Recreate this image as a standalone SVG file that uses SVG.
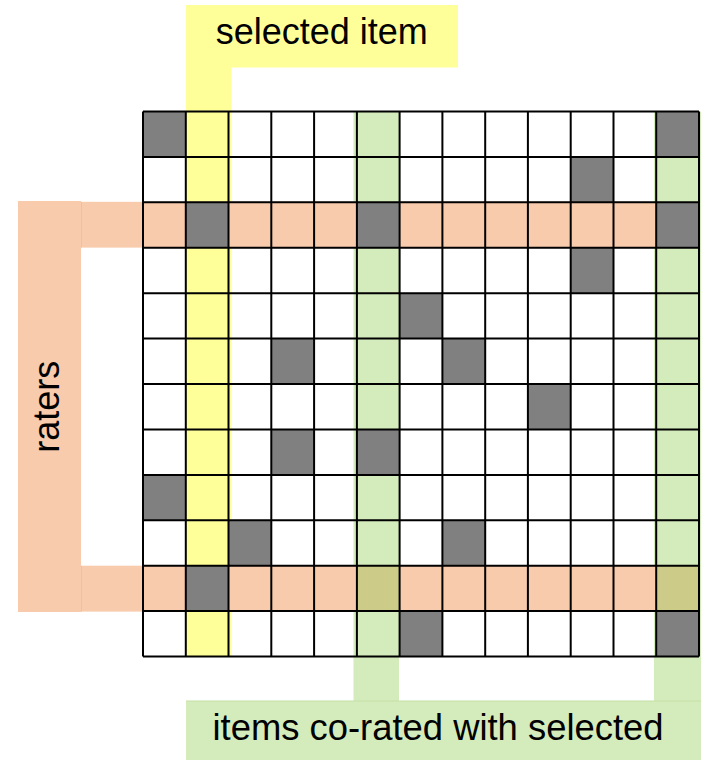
<svg xmlns="http://www.w3.org/2000/svg" width="701" height="760" viewBox="0 0 701 760">
<style>
.lbl{font-family:"Liberation Sans",Arial,Helvetica,sans-serif;font-size:36px;fill:#000}
.yel{fill:#ffff99}
.grn{fill:#d4ebbc}
.pch{fill:#f8cbad}
.gry{fill:#808080}
.olv{fill:#cccc88}
.grid{fill:none;stroke:#000;stroke-width:2}
</style>
<rect width="701" height="760" fill="#fff"/>
<g id="connectors">
<rect class="yel" x="186" y="67" width="45.5" height="589.5"/>
<rect class="grn" x="353.5" y="111.5" width="45.5" height="590"/>
<rect class="grn" x="654" y="111.5" width="47" height="590"/>
<rect class="pch" x="81" y="201.8" width="618" height="45.8"/>
<rect class="pch" x="81" y="565.7" width="618" height="45.9"/>
<line x1="81" y1="201.8" x2="81" y2="247.6" stroke="#f4b183" stroke-width="1"/>
<line x1="81" y1="565.7" x2="81" y2="611.6" stroke="#f4b183" stroke-width="1"/>
</g>
<g id="label-selected-item">
<rect class="yel" x="186" y="5" width="272" height="62.5"/>
<text class="lbl" x="321.8" y="43.5" text-anchor="middle">selected item</text>
</g>
<g id="label-raters">
<rect class="pch" x="18" y="201" width="63" height="411"/>
<text class="lbl" transform="translate(58.5,406.7) rotate(-90)" text-anchor="middle">raters</text>
</g>
<g id="label-co-rated">
<rect class="grn" x="186" y="701" width="515" height="59"/>
<line x1="186" y1="701" x2="701" y2="701" stroke="#c3e0a6" stroke-width="1"/>
<text class="lbl" x="212.5" y="740" textLength="451" lengthAdjust="spacingAndGlyphs" style="font-size:36.6px">items co-rated with selected</text>
</g>
<g id="rating-matrix">
<g id="cells">
<rect class="gry" x="143" y="111.5" width="42.8" height="45.4"/>
<rect class="gry" x="656.2" y="111.5" width="42.8" height="45.4"/>
<rect class="gry" x="570.7" y="156.9" width="42.8" height="45.4"/>
<rect class="gry" x="185.8" y="202.3" width="42.8" height="45.4"/>
<rect class="gry" x="356.9" y="202.3" width="42.8" height="45.4"/>
<rect class="gry" x="656.2" y="202.3" width="42.8" height="45.4"/>
<rect class="gry" x="570.7" y="247.8" width="42.8" height="45.4"/>
<rect class="gry" x="399.6" y="293.2" width="42.8" height="45.4"/>
<rect class="gry" x="271.3" y="338.6" width="42.8" height="45.4"/>
<rect class="gry" x="442.4" y="338.6" width="42.8" height="45.4"/>
<rect class="gry" x="527.9" y="384" width="42.8" height="45.4"/>
<rect class="gry" x="271.3" y="429.4" width="42.8" height="45.4"/>
<rect class="gry" x="356.9" y="429.4" width="42.8" height="45.4"/>
<rect class="gry" x="143" y="474.9" width="42.8" height="45.4"/>
<rect class="gry" x="228.5" y="520.3" width="42.8" height="45.4"/>
<rect class="gry" x="442.4" y="520.3" width="42.8" height="45.4"/>
<rect class="gry" x="185.8" y="565.7" width="42.8" height="45.4"/>
<rect class="olv" x="356.9" y="565.7" width="42.8" height="45.4"/>
<rect class="olv" x="656.2" y="565.7" width="42.8" height="45.4"/>
<rect class="gry" x="399.6" y="611.1" width="42.8" height="45.4"/>
<rect class="gry" x="656.2" y="611.1" width="42.8" height="45.4"/>
</g>
<path class="grid" d="M143 111.5V656.5M185.8 111.5V656.5M228.5 111.5V656.5M271.3 111.5V656.5M314.1 111.5V656.5M356.9 111.5V656.5M399.6 111.5V656.5M442.4 111.5V656.5M485.2 111.5V656.5M527.9 111.5V656.5M570.7 111.5V656.5M613.5 111.5V656.5M656.2 111.5V656.5M699 111.5V656.5M143 111.5H699M143 156.9H699M143 202.3H699M143 247.8H699M143 293.2H699M143 338.6H699M143 384H699M143 429.4H699M143 474.9H699M143 520.3H699M143 565.7H699M143 611.1H699M143 656.5H699"/>
</g>
</svg>
